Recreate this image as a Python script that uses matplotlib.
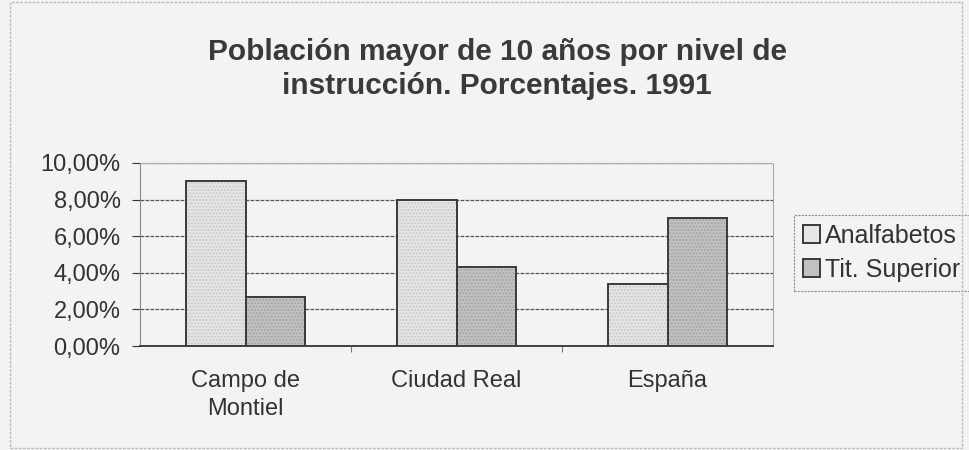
import numpy as np
import matplotlib.pyplot as plt
from matplotlib.ticker import FuncFormatter
from matplotlib.patches import Patch

plt.rcParams['font.family'] = ['Liberation Sans', 'DejaVu Sans']

categories = ["Campo de\nMontiel", "Ciudad Real", "España"]
analfabetos = [9.0, 8.0, 3.4]
tit_superior = [2.7, 4.3, 7.0]
series_names = ["Analfabetos", "Tit. Superior"]

bg = '#f3f3f2'
c_analf = '#e6e6e4'
c_tit = '#c2c2c0'
fig = plt.figure(figsize=(9.69, 4.5), dpi=100, facecolor=bg)
ax = fig.add_axes([140/969, 1-346/450, 633/969, 183/450])
ax.set_facecolor(bg)

x = np.arange(len(categories))
w = 0.284
# speckled fill layer
ax.bar(x - w/2, analfabetos, w, color=c_analf, edgecolor='#c8c8c6', linewidth=0, hatch='.....', zorder=3)
ax.bar(x + w/2, tit_superior, w, color=c_tit, edgecolor='#a4a4a2', linewidth=0, hatch='.....', zorder=3)
# outlines
ax.bar(x - w/2, analfabetos, w, fill=False, edgecolor='#3a3a3a', linewidth=1.4, zorder=4)
ax.bar(x + w/2, tit_superior, w, fill=False, edgecolor='#3a3a3a', linewidth=1.4, zorder=4)

ax.set_xlim(-0.5, 2.5)
ax.set_ylim(0, 10)
ax.set_yticks(np.arange(0, 11, 2))
ax.yaxis.set_major_formatter(FuncFormatter(lambda v, p: f"{v:.2f}%".replace('.', ',')))
ax.grid(axis='y', color='#555555', linestyle=(0, (3, 1)), linewidth=0.9, zorder=0)

ax.set_xticks([0.5, 1.5], minor=False)
ax.set_xticklabels(["", ""])
ax.tick_params(axis='x', length=4, color='#777777')
ax.set_xticks(x, minor=True)
ax.set_xticklabels(categories, minor=True, fontsize=17, color='#333333', linespacing=1.35)
ax.tick_params(axis='x', which='minor', length=0, pad=17)
ax.tick_params(axis='y', labelsize=17, colors='#333333', length=6, pad=8)

for s in ['top', 'right']:
    ax.spines[s].set_color('#aaaaaa')
    ax.spines[s].set_linestyle((0, (2, 1)))
ax.spines['left'].set_color('#888888')
ax.spines['bottom'].set_color('#333333')
ax.spines['bottom'].set_linewidth(1.3)

fig.text(497/969, 1-52/450, "Población mayor de 10 años por nivel de",
         ha='center', va='center', fontsize=21.5, fontweight='bold', color='#3a3a3a')
fig.text(497/969, 1-86/450, "instrucción. Porcentajes. 1991",
         ha='center', va='center', fontsize=21.5, fontweight='bold', color='#3a3a3a')

handles = [Patch(facecolor=c_analf, edgecolor='#3a3a3a', linewidth=1.4),
           Patch(facecolor=c_tit, edgecolor='#3a3a3a', linewidth=1.4)]
leg = ax.legend(handles, series_names, loc='upper left', bbox_to_anchor=(794/969, 1-215/450),
                bbox_transform=fig.transFigure, frameon=True, fontsize=18, handlelength=0.7,
                handleheight=0.7, handletextpad=0.2, borderpad=0.35, labelspacing=0.4,
                borderaxespad=0, fancybox=False, labelcolor='#333333')
leg.get_frame().set_edgecolor('#777777')
leg.get_frame().set_facecolor(bg)
leg.get_frame().set_linewidth(0.8)
leg.get_frame().set_linestyle((0, (2, 1)))

# outer chart border
fig.patches.append(plt.Rectangle((10/969, 0.005), 952/969, 0.99, transform=fig.transFigure,
                                 fill=False, edgecolor='#bbbbbb', linestyle=(0, (2, 1)), linewidth=1))

fig.savefig('out.png', dpi=100, facecolor=bg)
